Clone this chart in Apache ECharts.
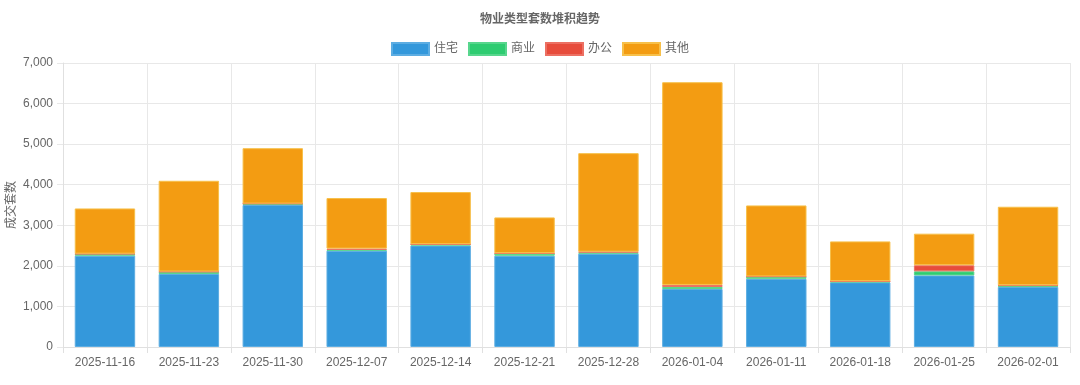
<!DOCTYPE html>
<html>
<head>
<meta charset="utf-8">
<script src="https://cdn.jsdelivr.net/npm/echarts@6/dist/echarts.min.js"></script>
<style>html,body{margin:0;padding:0;background:#fff}#c{width:1080px;height:385px}</style>
</head>
<body>
<div id="c"></div>
<script>
const categories = ['2025-11-16','2025-11-23','2025-11-30','2025-12-07','2025-12-14','2025-12-21','2025-12-28','2026-01-04','2026-01-11','2026-01-18','2026-01-25','2026-02-01'];
const residential = [2250, 1800, 3500, 2375, 2500, 2250, 2300, 1430, 1680, 1595, 1765, 1480];
const commercial  = [40, 50, 30, 20, 30, 50, 30, 50, 50, 20, 100, 30];
const office      = [10, 10, 5, 30, 5, 10, 20, 50, 10, 5, 150, 10];
const other       = [1115, 2237, 1365, 1246, 1284, 884, 2428, 4996, 1749, 983, 778, 1937];
const yTicks = [0, 1000, 2000, 3000, 4000, 5000, 6000, 7000];

const FONT = '"Liberation Sans", "Noto Sans CJK SC", sans-serif';
const chart = echarts.init(document.getElementById('c'), null, {renderer: 'canvas'});
function mk(name, data, color, border) {
  return {
    name: name, type: 'bar', stack: 'total', data: data, barWidth: '72%',
    itemStyle: {color: color, borderColor: border, borderWidth: 1},
    emphasis: {disabled: true}
  };
}
chart.setOption({
  animation: false,
  textStyle: {fontFamily: FONT},
  title: {
    text: '物业类型套数堆积趋势', left: 'center', top: 9,
    textStyle: {fontSize: 12, fontWeight: 'bold', color: '#666', fontFamily: FONT}
  },
  legend: {
    top: 37, left: 'center', itemWidth: 37, itemHeight: 12, itemGap: 10,
    icon: 'rect',
    textStyle: {fontSize: 12, color: '#666', fontFamily: FONT},
    data: ['住宅', '商业', '办公', '其他']
  },
  grid: {left: 63, right: 10, top: 63, bottom: 38, containLabel: false, outerBoundsMode: 'none'},
  xAxis: {
    type: 'category', data: categories, boundaryGap: true,
    axisLine: {show: true, lineStyle: {color: '#e0e0e0'}},
    axisTick: {show: true, length: 6, lineStyle: {color: '#e0e0e0'}},
    axisLabel: {color: '#666', fontSize: 12, margin: 10, fontFamily: FONT},
    splitLine: {show: true, lineStyle: {color: '#e8e8e8'}}
  },
  yAxis: {
    type: 'value', min: yTicks[0], max: yTicks[yTicks.length - 1], interval: 1000,
    name: '成交套数', nameLocation: 'middle', nameGap: 45, nameRotate: 90,
    nameMoveOverlap: false,
    nameTextStyle: {color: '#666', fontSize: 12, fontFamily: FONT},
    axisLine: {show: true, lineStyle: {color: '#e0e0e0'}},
    axisTick: {show: true, length: 6, lineStyle: {color: '#e8e8e8'}},
    axisLabel: {color: '#666', fontSize: 12, margin: 10, fontFamily: FONT,
      formatter: v => v.toLocaleString('en-US')},
    splitLine: {show: true, lineStyle: {color: '#e8e8e8'}}
  },
  series: [
    mk('住宅', residential, '#3498db', '#5dade2'),
    mk('商业', commercial, '#2ecc71', '#58d68d'),
    mk('办公', office, '#e74c3c', '#ec7063'),
    mk('其他', other, '#f39c12', '#f7c04a')
  ]
});
</script>
</body>
</html>
